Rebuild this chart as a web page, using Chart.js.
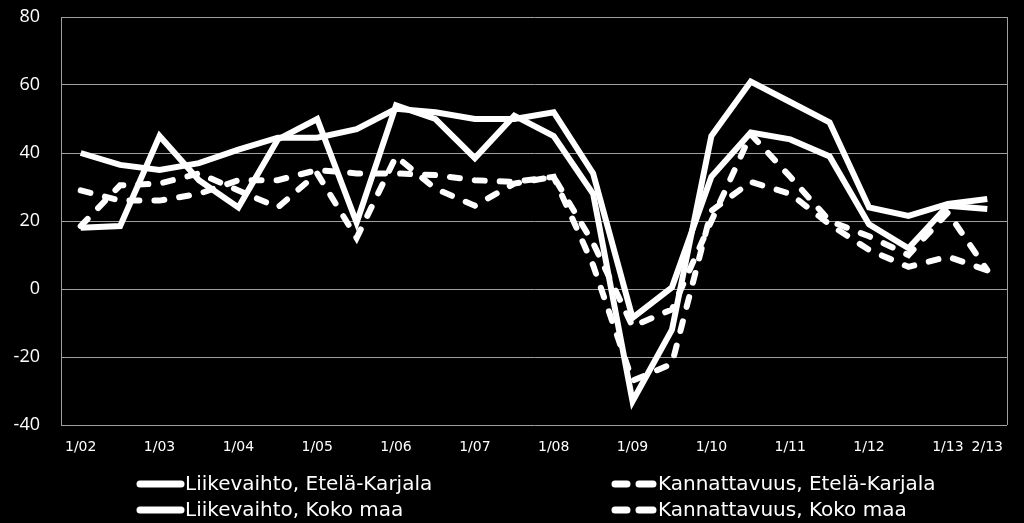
<!DOCTYPE html>
<html>
<head>
<meta charset="utf-8">
<script src="https://cdn.jsdelivr.net/npm/chart.js@4.4.1/dist/chart.umd.min.js"></script>
<style>
  html, body { margin: 0; padding: 0; background: #000; }
  #wrap { width: 1024px; height: 523px; position: relative; }
</style>
</head>
<body>
<div id="wrap"><canvas id="chart"></canvas></div>
<script>
// half-year observations, label shown only at each January (+ last point)
const periods = ["1/02", "", "1/03", "", "1/04", "", "1/05", "", "1/06", "", "1/07", "",
                 "1/08", "", "1/09", "", "1/10", "", "1/11", "", "1/12", "", "1/13", "2/13"];

const liikevaihtoEK = [18, 18.5, 45, 32, 24, 44, 50, 19.5, 54, 50, 38.5, 51,
                       45, 28, -33, -12, 45, 61, 55, 49, 24, 21.5, 25, 26.5];
const kannattavuusEK = [18.5, 30.5, 31, 34, 29, 24, 34, 15, 39, 29.5, 24.5, 31,
                        33, 13.5, -11, -6, 20, 45.5, 33, 20, 15.5, 10, 22.5, 5.5];
const liikevaihtoKM = [40, 36.5, 35, 37, 41, 44.5, 44.5, 47, 53, 52, 50, 50,
                       52, 34, -8.5, 0.5, 33, 46, 44, 39, 19, 12, 24.5, 23.5];
const kannattavuusKM = [29, 26, 26, 28, 32, 32, 35, 34, 34, 33.5, 32, 31.5,
                        33, 7, -27, -22, 23, 31.5, 28, 19, 11.5, 6.5, 9.5, 5.5];

const yMin = -40, yMax = 80, yStep = 20;

const DASH = [10, 15];

function series(label, data, dashed) {
  return {
    label,
    data,
    borderColor: "#fff",
    backgroundColor: "#fff",
    borderWidth: 6,
    borderDash: dashed ? DASH : [],
    borderCapStyle: dashed ? "round" : "butt",
    pointRadius: 0,
    pointHoverRadius: 0,
    tension: 0,
    fill: false,
  };
}

// two-column legend like the original, drawn under the plot
const columnLegend = {
  id: "columnLegend",
  afterDraw(chart) {
    const ctx = chart.ctx;
    const cols = [{ x0: 137, x1: 181, tx: 185 }, { x0: 611, x1: 655, tx: 658 }];
    const rows = [484, 510];
    ctx.save();
    ctx.font = "20px 'DejaVu Sans'";
    ctx.fillStyle = "#fff";
    ctx.strokeStyle = "#fff";
    ctx.textBaseline = "middle";
    chart.data.datasets.forEach((ds, i) => {
      const c = cols[i % 2];
      const y = rows[Math.floor(i / 2)];
      ctx.lineWidth = 7;
      ctx.lineCap = "round";
      ctx.beginPath();
      if (ds.borderDash.length) {
        ctx.moveTo(c.x0 + 4, y); ctx.lineTo(c.x0 + 16, y);
        ctx.moveTo(c.x0 + 28, y); ctx.lineTo(c.x1 - 2, y);
      } else {
        ctx.moveTo(c.x0 + 3, y); ctx.lineTo(c.x1, y);
      }
      ctx.stroke();
      ctx.fillText(ds.label, c.tx, y + 1);
    });
    ctx.restore();
  },
};

// right-hand border of the plot box
const plotFrame = {
  id: "plotFrame",
  beforeDatasetsDraw(chart) {
    const { ctx, chartArea: a } = chart;
    ctx.save();
    ctx.strokeStyle = "#a0a0a0";
    ctx.lineWidth = 1;
    ctx.beginPath();
    ctx.moveTo(a.right + 0.5, a.top);
    ctx.lineTo(a.right + 0.5, a.bottom);
    ctx.stroke();
    ctx.restore();
  },
};

new Chart(document.getElementById("chart"), {
  type: "line",
  data: {
    labels: periods,
    datasets: [
      series("Liikevaihto, Etelä-Karjala", liikevaihtoEK, false),
      series("Kannattavuus, Etelä-Karjala", kannattavuusEK, true),
      series("Liikevaihto, Koko maa", liikevaihtoKM, false),
      series("Kannattavuus, Koko maa", kannattavuusKM, true),
    ],
  },
  options: {
    responsive: true,
    maintainAspectRatio: false,
    animation: false,
    layout: { padding: { top: 17, right: 17, left: 0, bottom: 0 } },
    plugins: {
      legend: { display: false },
      tooltip: { enabled: false },
    },
    scales: {
      x: {
        type: "category",
        offset: true,
        grid: { display: false, drawTicks: false },
        border: { display: false },
        ticks: {
          color: "#fff",
          autoSkip: false,
          maxRotation: 0,
          padding: 14,
          font: { family: "DejaVu Sans", size: 14 },
        },
        afterFit: (scale) => { scale.height = 98; },
      },
      y: {
        min: yMin,
        max: yMax,
        grid: { color: "#a0a0a0", lineWidth: 1, drawTicks: true, tickLength: 20, tickColor: "rgba(0,0,0,0)" },
        border: { display: true, color: "#a0a0a0", width: 1 },
        ticks: {
          stepSize: yStep,
          color: "#fff",
          padding: 1,
          font: { family: "Open Sans", size: 18 },
        },
        afterFit: (scale) => { scale.width = 61; },
      },
    },
  },
  plugins: [plotFrame, columnLegend],
});
</script>
</body>
</html>
